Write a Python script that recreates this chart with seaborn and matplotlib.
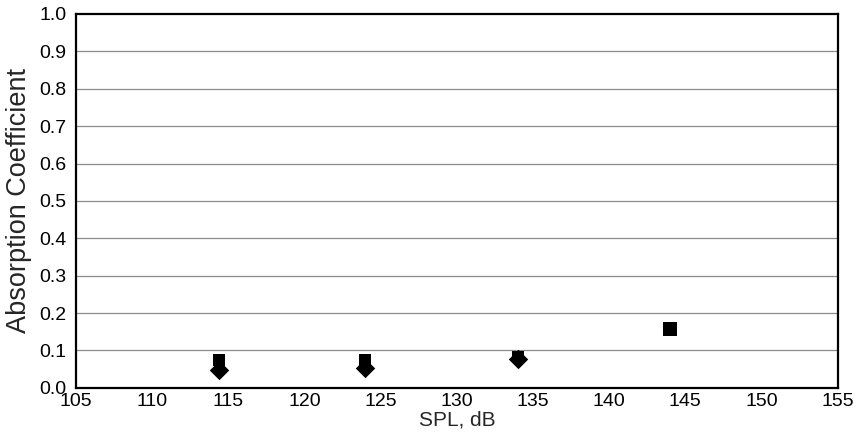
import matplotlib
matplotlib.use("Agg")
import matplotlib.pyplot as plt
import seaborn as sns
import pandas as pd

# Measured absorption coefficient versus sound pressure level
spl_bounded = [114.4, 124.0, 134.0]
alpha_upper = [0.075, 0.074, 0.083]
alpha_lower = [0.049, 0.054, 0.077]
spl_measured = [144.0]
alpha_measured = [0.157]

x_ticks = [105, 110, 115, 120, 125, 130, 135, 140, 145, 150, 155]
y_ticks = [0.0, 0.1, 0.2, 0.3, 0.4, 0.5, 0.6, 0.7, 0.8, 0.9, 1.0]

sns.set_style("white")
plt.rcParams["font.family"] = ["Liberation Sans", "DejaVu Sans"]

upper_df = pd.DataFrame({"spl": spl_bounded, "alpha": alpha_upper})
lower_df = pd.DataFrame({"spl": spl_bounded, "alpha": alpha_lower})
meas_df = pd.DataFrame({"spl": spl_measured, "alpha": alpha_measured})

fig = plt.figure(figsize=(8.57, 4.33), dpi=100)
ax = fig.add_axes([0.0886, 0.1042, 0.8889, 0.8635])

for y in y_ticks[1:-1]:
    ax.axhline(y, color="#8c8c8c", linewidth=0.9, zorder=1)

sns.scatterplot(data=upper_df, x="spl", y="alpha", marker="s", s=72,
                color="black", linewidth=0, ax=ax, zorder=3, legend=False)
sns.scatterplot(data=lower_df, x="spl", y="alpha", marker="D", s=98,
                color="black", linewidth=0, ax=ax, zorder=3, legend=False)
sns.scatterplot(data=meas_df, x="spl", y="alpha", marker="s", s=88,
                color="black", linewidth=0, ax=ax, zorder=3, legend=False)

ax.set_xlim(105, 155)
ax.set_ylim(0, 1.0)
ax.set_xticks(x_ticks)
ax.set_yticks(y_ticks)
ax.set_xticklabels([str(v) for v in x_ticks])
ax.set_yticklabels([f"{v:.1f}" for v in y_ticks])

for side in ["left", "right", "top", "bottom"]:
    ax.spines[side].set_visible(True)
    ax.spines[side].set_color("black")
    ax.spines[side].set_linewidth(1.6)

ax.tick_params(axis="both", which="major", direction="in", length=7,
               width=1.4, color="black", labelsize=14, labelcolor="black")
ax.tick_params(axis="x", pad=4)
ax.tick_params(axis="y", pad=7)

ax.set_xlabel("SPL, dB", fontsize=15, labelpad=0)
ax.set_ylabel("Absorption Coefficient", fontsize=19.5, labelpad=5)

fig.savefig("out.png", dpi=100)
